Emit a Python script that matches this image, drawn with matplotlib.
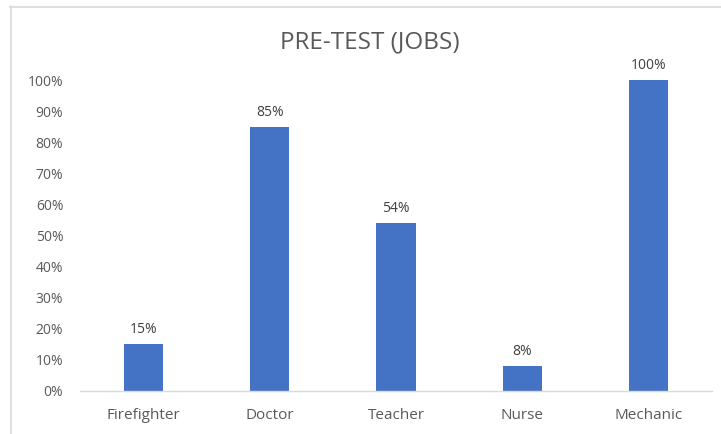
import matplotlib
matplotlib.use("Agg")
import matplotlib.pyplot as plt
from matplotlib.lines import Line2D
from matplotlib.ticker import FuncFormatter

categories = ["Firefighter", "Doctor", "Teacher", "Nurse", "Mechanic"]
values = [0.15, 0.85, 0.54, 0.08, 1.00]
labels = ["15%", "85%", "54%", "8%", "100%"]
yticks = [0, 0.1, 0.2, 0.3, 0.4, 0.5, 0.6, 0.7, 0.8, 0.9, 1.0]

plt.rcParams['font.family'] = ['Open Sans', 'DejaVu Sans']
W, H = 721, 434
fig = plt.figure(figsize=(W / 100, H / 100), dpi=100)
ax = fig.add_axes([80 / W, 1 - 391 / H, (712 - 80) / W, (391 - 80) / H])

x = list(range(len(categories)))
bars = ax.bar(x, values, width=0.31, color="#4472C4")
for xi, v, lab in zip(x, values, labels):
    ax.annotate(lab, (xi, v), xytext=(0, 5), textcoords="offset points",
                ha="center", va="bottom", fontsize=10, color="#404040")

ax.set_xlim(-0.5, len(categories) - 0.5)
ax.set_ylim(0, 1.0)
ax.set_yticks(yticks)
ax.yaxis.set_major_formatter(FuncFormatter(lambda v, p: f"{v*100:.0f}%"))
ax.set_xticks(x)
ax.set_xticklabels(categories)
ax.tick_params(axis="both", length=0, colors="#595959", labelsize=10)
ax.tick_params(axis="x", labelsize=11, pad=12)
ax.tick_params(axis="y", pad=12)
for s in ["top", "right", "left"]:
    ax.spines[s].set_visible(False)
ax.spines["bottom"].set_color("#D9D9D9")
ax.spines["bottom"].set_linewidth(1.0)

fig.text(370 / W, 1 - 42 / H, "PRE-TEST (JOBS)", ha="center", va="center",
         fontsize=17.5, color="#595959")

fig.add_artist(Line2D([10.5 / W, 10.5 / W], [0, 1 - 6 / H], color="#D9D9D9", lw=1.2))
fig.add_artist(Line2D([10 / W, 1], [1 - 6.5 / H, 1 - 6.5 / H], color="#D9D9D9", lw=1.2))

fig.savefig("out.png", dpi=100)
